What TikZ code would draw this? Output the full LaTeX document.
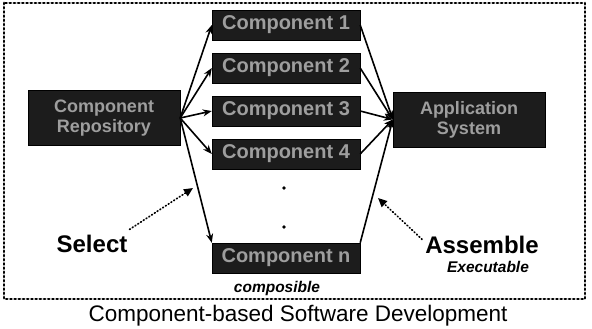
\documentclass[tikz,border=0pt]{standalone}
\usepackage{fontspec}
\setmainfont{Liberation Sans}
\usetikzlibrary{arrows.meta}
\definecolor{boxfill}{rgb}{0.11,0.11,0.11}
\definecolor{boxtext}{rgb}{0.62,0.62,0.62}
\begin{document}
\begin{tikzpicture}[x=1pt,y=-1pt,
  darkbox/.style={draw=black,fill=boxfill,text=boxtext,font=\bfseries,
    inner sep=0pt,align=center},
  compbox/.style={darkbox,minimum width=148,minimum height=30,font=\bfseries\fontsize{20}{20}\selectfont},
  endbox/.style={darkbox,minimum width=152,minimum height=55,font=\bfseries\fontsize{18}{20}\selectfont},
  flow/.style={line width=1.6pt,-{Stealth[length=9pt,width=7pt]}},
  hint/.style={line width=1.7pt,dash pattern=on 0.9pt off 2.4pt,line cap=round,
    -{Triangle[length=9pt,width=8pt]}},
  frame/.style={line width=2.8pt,dash pattern=on 1.1pt off 3.1pt,line cap=round},
  lbl/.style={font=\bfseries\fontsize{24}{24}\selectfont,inner sep=0pt,anchor=base},
  note/.style={font=\bfseries\itshape\fontsize{15.5}{15.5}\selectfont,inner sep=0pt,anchor=base}]
\useasboundingbox (0,0) rectangle (592,329);

% dotted outline around the process
\draw[frame] (4,3) rectangle (585,299);

% repository, components and assembled system
\node[endbox] (repo) at (104,118) {Component\\Repository};
\node[endbox] (sys) at (469,119.5) {Application\\System};
\node[compbox] (c1) at (286,25) {Component 1};
\node[compbox] (c2) at (286,68) {Component 2};
\node[compbox] (c3) at (286,111) {Component 3};
\node[compbox] (c4) at (286,154) {Component 4};
\node[compbox] (cn) at (286,258) {Component n};
\node[circle,fill=black,inner sep=1.4pt] (d1) at (284,188) {};
\node[circle,fill=black,inner sep=1.4pt] (d2) at (284,227) {};

% selection from the repository
\foreach \c in {c1,c2,c3,c4}
  \draw[flow] (repo.east) -- (\c.west);
\draw[flow] (repo.east) -- (cn.north west);

% assembly into the system
\foreach \c in {c1,c2,c3,c4}
  \draw[flow] (\c.east) -- (sys.west);
\draw[flow] (cn.north east) -- (sys.west);

% labels
\node[lbl] (sel) at (92,252) {Select};
\node[lbl] (asm) at (482,253) {Assemble};
\node[note] (exe) at (488,272) {Executable};
\node[note] (cmp) at (277,292) {composible};
\node[font=\fontsize{22.5}{22.5}\selectfont,inner sep=0pt,anchor=base] (title) at (298,321)
  {Component-based Software Development};

\coordinate (selpt) at (193,188);
\coordinate (asmpt) at (378,198);
\draw[hint] (sel.east) ++(2,-14) -- (selpt);
\draw[hint] (asm.north west) ++(-3,4) -- (asmpt);
\end{tikzpicture}
\end{document}
